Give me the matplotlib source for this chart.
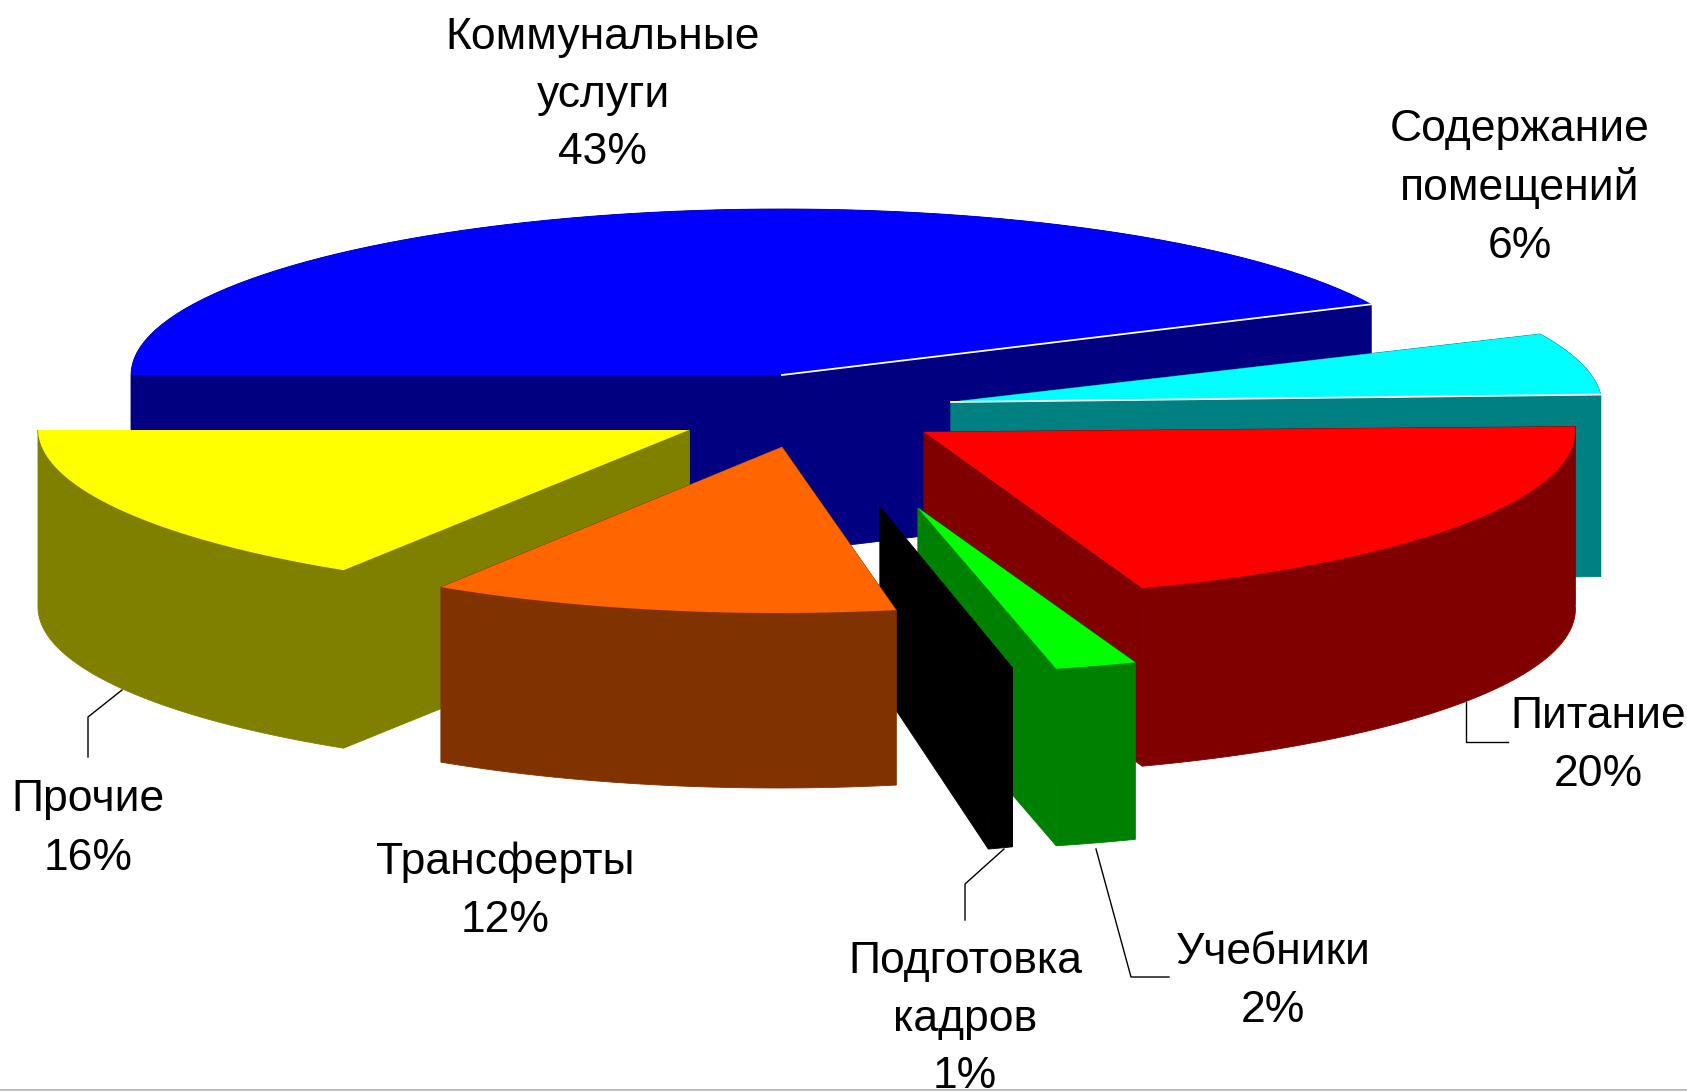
import numpy as np
import matplotlib
matplotlib.use("Agg")
import matplotlib.pyplot as plt

plt.rcParams['font.family'] = ['Liberation Sans', 'DejaVu Sans']

# ----- DATA -----
labels = ["Коммунальные\nуслуги", "Содержание\nпомещений", "Питание", "Учебники",
          "Подготовка\nкадров", "Трансферты", "Прочие"]
shares = [43, 6, 20, 2, 1, 12, 16]

# ----- STYLE -----
top_colors  = ["#0000FF", "#00FFFF", "#FF0000", "#00FF00", "#000000", "#FF6600", "#FFFF00"]
wall_colors = ["#000080", "#008080", "#800000", "#008000", "#000000", "#803300", "#808000"]

# exploded slice apex in pixels, and small per-slice fixes for the fake perspective
apex_x = [782, 951, 924, 918, 880, 782, 689]
apex_y = [375, 402, 432, 508, 507, 447, 430]
rad_x  = [651, 651, 651, 653, 400, 630, 651]
shear  = [0, 0, 23, 25, -34, 4, -4]
tilt   = [0, 3, 5, 0, 0, 0, 0]
depth  = [178, 182, 178, 177, 179, 175, 178]
RAD_Y = 166
draw_order = [0, 1, 2, 6, 3, 4, 5]

# label anchor: centre x, first line y
label_x = [603, 1520, 1598, 1273, 965, 505, 88]
label_y = [37, 130, 717, 952, 961, 862, 800]
LINE_H = 58
FONT = 32

leaders = [
    ([122, 88, 88], [690, 717, 757]),
    ([1004, 965, 965], [849, 884, 920]),
    ([1096, 1131, 1169], [849, 977, 977]),
    ([1466, 1466, 1508], [702, 742, 742]),
]

# ----- FIGURE -----
fig = plt.figure(figsize=(16.87, 10.91), dpi=100)
ax = fig.add_axes([0, 0, 1, 1])
ax.set_xlim(0, 1687)
ax.set_ylim(1091, 0)
ax.axis('off')


def rim(i, t):
    x = apex_x[i] + rad_x[i] * np.cos(t) + shear[i] * np.sin(t)
    y = apex_y[i] - RAD_Y * np.sin(t) + tilt[i] * np.cos(t)
    return x, y


# slices run clockwise from the left side
ends = 180 - np.cumsum(shares) * 3.6
starts = np.r_[180, ends[:-1]]

for i in draw_order:
    t = np.radians(np.linspace(starts[i], ends[i], 80))
    x, y = rim(i, t)
    h = depth[i]
    ax_, ay_ = apex_x[i], apex_y[i]
    wall = wall_colors[i]
    # cut faces (edge in same colour closes the antialiasing seams)
    for k in (0, -1):
        ax.fill([ax_, x[k], x[k], ax_], [ay_, y[k], y[k] + h, ay_ + h],
                facecolor=wall, edgecolor=wall, lw=0.6)
    # outer wall
    ax.fill(np.r_[x, x[::-1]], np.r_[y, y[::-1] + h],
            facecolor=wall, edgecolor=wall, lw=0.6)
    # top
    ax.fill(np.r_[ax_, x], np.r_[ay_, y], color=top_colors[i], lw=0)
    if i < 2:
        ax.plot([ax_, x[-1]], [ay_, y[-1]], color='white', lw=1.3)

for lx, ly in leaders:
    ax.plot(lx, ly, color='black', lw=1)

for i, name in enumerate(labels):
    lines = name.split("\n") + [f"{shares[i]}%"]
    for n, line in enumerate(lines):
        ax.text(label_x[i], label_y[i] + n * LINE_H, line, fontsize=FONT,
                ha='center', va='center', color='black')

# grey strip along the bottom edge of the screenshot
ax.axhspan(1089, 1091, color='#BDBDBD', lw=0, zorder=5)

fig.savefig("out.png", dpi=100, facecolor='white')
